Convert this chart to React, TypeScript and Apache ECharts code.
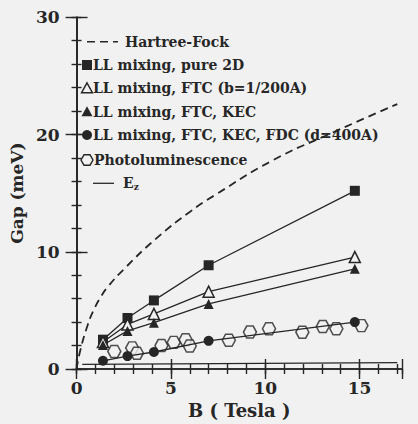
import React, { useEffect, useRef } from "react";
import * as echarts from "echarts";

// ---- data ----
const theoryB = [1.4, 2.7, 4.1, 7.0, 14.75];
const pure2D = [2.5, 4.35, 5.85, 8.85, 15.2];
const ftc = [2.3, 3.8, 4.7, 6.6, 9.55];
const kec = [2.05, 3.25, 3.95, 5.55, 8.55];
const fdc = [0.7, 1.1, 1.45, 2.4, 4.0];

const hartreeFock: [number, number][] = [
  [0, 0], [0.2, 1.6], [0.6, 3.8], [0.9, 5.0], [1.3, 6.2], [1.65, 7.0],
  [2.5, 8.5], [4.2, 11.1], [6.0, 13.4], [7.3, 14.8], [10.4, 17.8],
  [13.2, 19.9], [17.0, 22.6],
];

const photoB = [2.0, 2.95, 3.2, 4.5, 5.15, 5.78, 6.0, 8.07, 9.19, 10.2, 11.97, 13.05, 13.77, 15.1];
const photoGap = [1.5, 1.8, 1.35, 2.0, 2.27, 2.5, 1.96, 2.45, 3.15, 3.43, 3.14, 3.62, 3.43, 3.7];

const zeemanB = [0.3, 17.0];
const zeemanGap = [0.4, 0.55];

const xLabelled = [0, 5, 10, 15];
const yLabelled = [0, 10, 20, 30];

const legendLabels = [
  "Hartree-Fock",
  "LL mixing, pure 2D",
  "LL mixing, FTC (b=1/200A)",
  "LL mixing, FTC, KEC",
  "LL mixing, FTC, KEC, FDC (d=400A)",
  "Photoluminescence",
];

const INK = "#262626";
const BG = "#f1f1f1";
const FONT = "'DejaVu Serif', serif";
const HEX = "path://M-1,0L-0.5,-0.866L0.5,-0.866L1,0L0.5,0.866L-0.5,0.866Z";
const X_MAX = 17.25;

const zip = (a: number[], b: number[]) => a.map((v, i) => [v, b[i]]);

export default function App() {
  const ref = useRef<HTMLDivElement>(null);
  useEffect(() => {
    if (!ref.current) return;
    const chart = echarts.init(ref.current, undefined, { renderer: "svg" });

    const lbl = {
      color: INK,
      fontFamily: FONT,
      fontWeight: "bold",
      fontSize: 17,
    };

    const mkAxis = (
      kind: "x" | "y",
      position: string,
      interval: number,
      tickLen: number,
      withLine: boolean,
      labels?: any,
      extra: any = {}
    ) => ({
      type: "value",
      min: 0,
      max: kind === "x" ? X_MAX : 30,
      interval,
      position,
      axisLine: { show: withLine, lineStyle: { color: INK, width: 1.7 } },
      axisTick: { show: true, inside: true, length: tickLen, lineStyle: { color: INK, width: 1.4 } },
      axisLabel: labels ? labels : { show: false },
      splitLine: { show: false },
      ...extra,
    });

    const xAxis = [
      mkAxis("x", "bottom", 1, 5, true, {
        ...lbl,
        margin: 10,
        showMaxLabel: false,
        formatter: (v: number) => (xLabelled.includes(v) ? String(v) : ""),
      }, {
        name: "B ( Tesla )",
        nameLocation: "middle",
        nameGap: 32,
        nameTextStyle: { ...lbl, fontSize: 18 },
      }),
      mkAxis("x", "bottom", 5, 10, false),
      mkAxis("x", "top", 1, 5, true),
      mkAxis("x", "top", 5, 10, false),
    ];
    const yAxis = [
      mkAxis("y", "left", 2, 5, true, {
        ...lbl,
        margin: 17,
        formatter: (v: number) => (yLabelled.includes(v) ? String(v) : ""),
      }, {
        name: "Gap (meV)",
        nameLocation: "middle",
        nameGap: 42,
        nameTextStyle: { ...lbl },
      }),
      mkAxis("y", "left", 10, 11, false),
      mkAxis("y", "right", 2, 5, true),
      mkAxis("y", "right", 10, 11, false),
    ];

    const rowY = [41.7, 65, 88.3, 111.7, 135, 160, 183.3];
    const mx = 87;
    const textEl = (x: number, y: number, t: string) => ({
      type: "text",
      x,
      y,
      style: { text: t, fill: INK, font: `bold 14px ${FONT}`, verticalAlign: "middle" },
    });

    const graphic: any[] = [
      { type: "line", shape: { x1: 87, y1: rowY[0], x2: 118, y2: rowY[0] }, style: { stroke: INK, lineWidth: 1.6, lineDash: [8, 5] } },
      textEl(125, rowY[0], legendLabels[0]),
      { type: "rect", shape: { x: mx - 5, y: rowY[1] - 5, width: 10, height: 10 }, style: { fill: INK } },
      textEl(93, rowY[1], legendLabels[1]),
      { type: "polygon", shape: { points: [[mx, rowY[2] - 5.5], [mx + 5.5, rowY[2] + 4.5], [mx - 5.5, rowY[2] + 4.5]] }, style: { fill: BG, stroke: INK, lineWidth: 1.4 } },
      textEl(93, rowY[2], legendLabels[2]),
      { type: "polygon", shape: { points: [[mx, rowY[3] - 5.5], [mx + 5.5, rowY[3] + 4.5], [mx - 5.5, rowY[3] + 4.5]] }, style: { fill: INK } },
      textEl(93, rowY[3], legendLabels[3]),
      { type: "circle", shape: { cx: mx, cy: rowY[4], r: 5 }, style: { fill: INK } },
      textEl(93, rowY[4], legendLabels[4]),
      {
        type: "polygon",
        shape: { points: [[mx - 6, rowY[5]], [mx - 3, rowY[5] - 5.2], [mx + 3, rowY[5] - 5.2], [mx + 6, rowY[5]], [mx + 3, rowY[5] + 5.2], [mx - 3, rowY[5] + 5.2]] },
        style: { fill: BG, stroke: INK, lineWidth: 1.4 },
      },
      textEl(94, rowY[5], legendLabels[5]),
      { type: "line", shape: { x1: 93, y1: rowY[6], x2: 114, y2: rowY[6] }, style: { stroke: INK, lineWidth: 1.3 } },
      {
        type: "text",
        x: 123,
        y: rowY[6],
        style: {
          text: "{e|E}{s|z}",
          fill: INK,
          verticalAlign: "middle",
          rich: {
            e: { font: `bold 14px ${FONT}`, fill: INK },
            s: { font: `bold 9px ${FONT}`, fill: INK, padding: [8, 0, 0, 0] },
          },
        },
      },
    ];

    const openSym = { color: BG, borderColor: INK, borderWidth: 1.5 };
    const thin = { color: INK, width: 1.3 };

    chart.setOption({
      animation: false,
      backgroundColor: BG,
      grid: { left: 69.6, right: 16, top: 17.3, bottom: 50.7 },
      xAxis,
      yAxis,
      graphic,
      series: [
        {
          name: legendLabels[0],
          type: "line",
          data: hartreeFock,
          smooth: true,
          showSymbol: false,
          symbol: "none",
          lineStyle: { color: INK, width: 1.8, type: [8, 5] },
        },
        {
          name: legendLabels[1],
          type: "line",
          data: zip(theoryB, pure2D),
          symbol: "rect",
          symbolSize: 10,
          itemStyle: { color: INK },
          lineStyle: thin,
        },
        {
          name: legendLabels[2],
          type: "line",
          data: zip(theoryB, ftc),
          symbol: "triangle",
          symbolSize: 11,
          itemStyle: openSym,
          lineStyle: thin,
        },
        {
          name: legendLabels[3],
          type: "line",
          data: zip(theoryB, kec),
          symbol: "triangle",
          symbolSize: 10,
          itemStyle: { color: INK },
          lineStyle: thin,
        },
        {
          name: legendLabels[5],
          type: "scatter",
          data: zip(photoB, photoGap),
          symbol: HEX,
          symbolSize: [13, 12],
          itemStyle: openSym,
          z: 3,
        },
        {
          name: legendLabels[4],
          type: "line",
          data: zip(theoryB, fdc),
          symbol: "circle",
          symbolSize: 10,
          itemStyle: { color: INK },
          lineStyle: thin,
          z: 4,
        },
        {
          name: "Ez",
          type: "line",
          data: zip(zeemanB, zeemanGap),
          showSymbol: false,
          symbol: "none",
          lineStyle: { color: INK, width: 1.2 },
        },
      ],
    });
    return () => chart.dispose();
  }, []);
  return (
    <div
      ref={ref}
      style={{ position: "fixed", left: 0, top: 0, width: 418, height: 424 }}
    />
  );
}
